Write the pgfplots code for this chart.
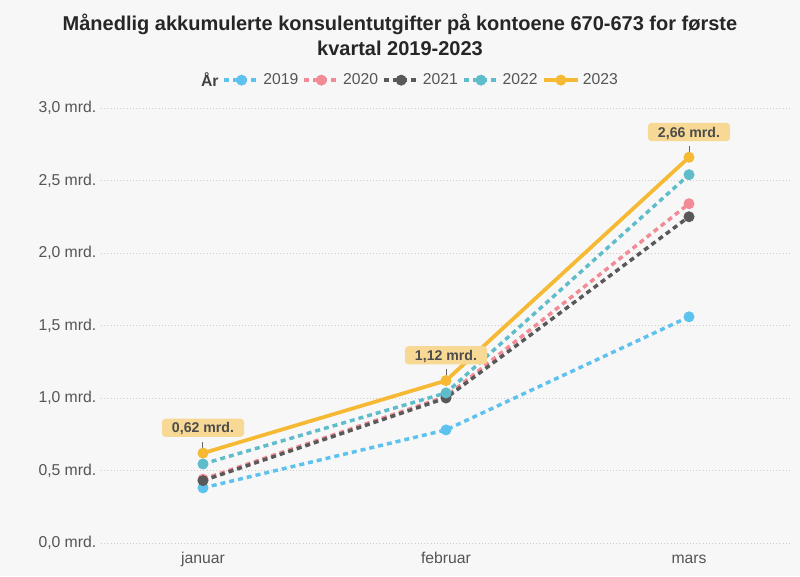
\documentclass[border=0pt]{standalone}
\usepackage{fontspec}
\setmainfont{Liberation Sans}
\usepackage{pgfplots}
\pgfplotsset{compat=1.18}
\definecolor{bg}{HTML}{F7F7F7}
\definecolor{c19}{HTML}{5EC2EE}
\definecolor{c20}{HTML}{F28B96}
\definecolor{c21}{HTML}{595959}
\definecolor{c22}{HTML}{5FBCCB}
\definecolor{c23}{HTML}{F6B933}
\definecolor{txt}{HTML}{555555}
\definecolor{lab}{HTML}{F7D995}
\begin{document}
\begin{tikzpicture}[x=1pt,y=1pt]
\fill[bg] (0,0) rectangle (600,432);
\node[font=\bfseries\fontsize{15}{18.75}\selectfont, text=black!85, align=center] at (300,406) {Månedlig akkumulerte konsulentutgifter på kontoene 670-673 for første\\kvartal 2019-2023};
\begin{axis}[
 at={(75.7pt,24.75pt)}, anchor=south west, scale only axis,
 width=517.6pt, height=326.25pt,
 xmin=-0.42, xmax=2.42, ymin=0, ymax=3,
 axis line style={draw=none}, tick style={draw=none},
 xtick={0,1,2}, xticklabels={januar,februar,mars},
 ytick={0,0.5,1,1.5,2,2.5,3},
 yticklabels={{0,0 mrd.},{0,5 mrd.},{1,0 mrd.},{1,5 mrd.},{2,0 mrd.},{2,5 mrd.},{3,0 mrd.}},
 ticklabel style={font=\fontsize{11.8}{13}\selectfont, text=txt},
 xticklabel style={anchor=base, yshift=-15pt},
 ymajorgrids, major grid style={draw=black!20, dotted, line width=0.75pt},
 clip=false,
 legend columns=-1,
 legend style={at={(0.447,1.064)}, anchor=center, draw=none, fill=none,
   font=\fontsize{11.8}{13}\selectfont, text=txt,
   /tikz/every even column/.append style={column sep=1pt}},
 legend image code/.code={\draw[mark repeat=2,mark phase=2,#1] plot coordinates {(0pt,0pt) (13pt,0pt) (26pt,0pt)};},
 every axis plot/.append style={mark=*, mark size=3.8pt},
]
\addlegendimage{empty legend}\addlegendentry{\textbf{\color{black!75}År}}
\addplot[c19, line width=2.6pt, dash pattern=on 3.75pt off 3pt, mark options={solid, line width=0.6pt}] coordinates {(0,0.38) (1,0.78) (2,1.56)};
\addlegendentry{2019}
\addplot[c20, line width=2.6pt, dash pattern=on 3.75pt off 3pt, mark options={solid, line width=0.6pt}] coordinates {(0,0.44) (1,1.01) (2,2.34)};
\addlegendentry{2020}
\addplot[c21, line width=2.6pt, dash pattern=on 3.75pt off 3pt, mark options={solid, line width=0.6pt}] coordinates {(0,0.43) (1,1.00) (2,2.25)};
\addlegendentry{2021}
\addplot[c22, line width=2.6pt, dash pattern=on 3.75pt off 3pt, mark options={solid, line width=0.6pt}] coordinates {(0,0.545) (1,1.035) (2,2.54)};
\addlegendentry{2022}
\addplot[draw=none, mark=none, forget plot,
  error bars/.cd, y dir=plus, y explicit, error mark=none,
  error bar style={draw=black!60, line width=0.75pt, solid}]
  coordinates {(0,0.62) +- (0,0.078) (1,1.12) +- (0,0.078) (2,2.66) +- (0,0.078)};
\addplot[c23, line width=2.8pt, solid, mark options={line width=0.6pt}] coordinates {(0,0.62) (1,1.12) (2,2.66)};
\addlegendentry{2023}
\addplot[draw=none, mark=none, forget plot, point meta=explicit symbolic, nodes near coords,
  every node near coord/.style={anchor=south, yshift=12pt, fill=lab, rounded corners=2.5pt,
   text=black!70, font=\bfseries\fontsize{10.6}{12}\selectfont, inner xsep=7.5pt, inner ysep=3pt,
   text height=7.6pt, text depth=0pt}]
  coordinates {(0,0.62) [0,62 mrd.] (1,1.12) [1,12 mrd.] (2,2.66) [2,66 mrd.]};
\end{axis}
\end{tikzpicture}
\end{document}
